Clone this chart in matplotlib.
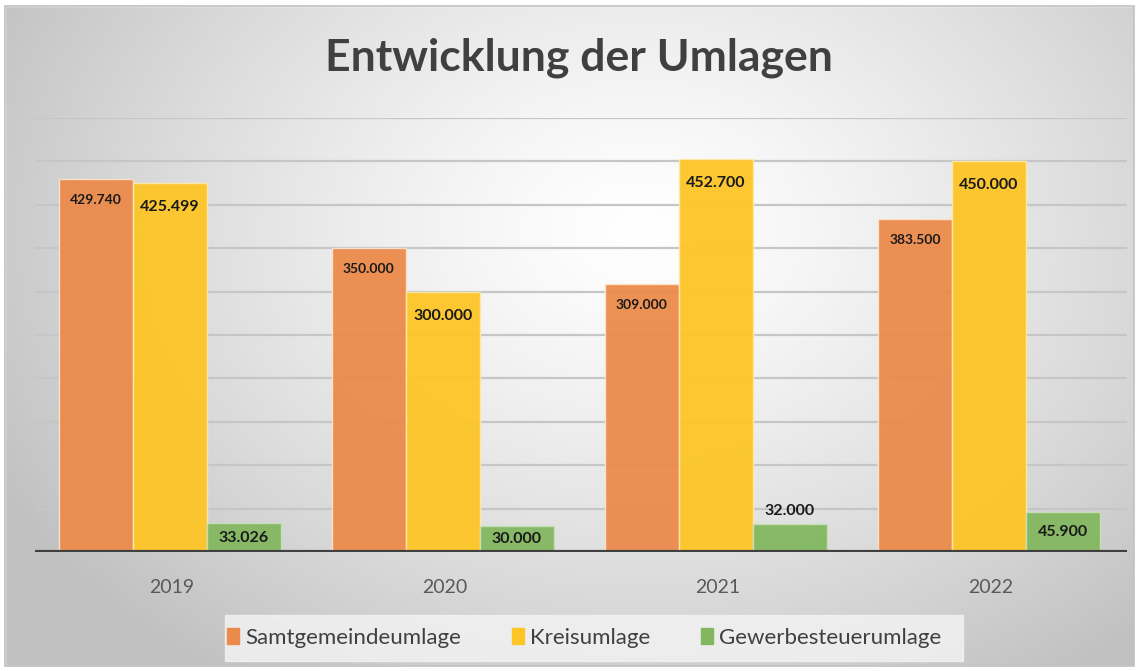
import numpy as np
import matplotlib
matplotlib.use("Agg")
import matplotlib.pyplot as plt
from matplotlib.patches import Rectangle, Patch

plt.rcParams['font.family'] = ['Lato', 'DejaVu Sans']

years = ["2019", "2020", "2021", "2022"]
series_names = ["Samtgemeindeumlage", "Kreisumlage", "Gewerbesteuerumlage"]
samtgemeinde = [429740, 350000, 309000, 383500]
kreis = [425499, 300000, 452700, 450000]
gewerbe = [33026, 30000, 32000, 45900]
colors = ["#EC8A4B", "#FDC526", "#82B760"]

W, H = 1139, 671
fig = plt.figure(figsize=(W / 100, H / 100), dpi=100)

# background radial gradient
bg = fig.add_axes([0, 0, 1, 1], zorder=-10)
yy, xx = np.mgrid[0:H, 0:W]
cx, cy = 640, 230
r = np.sqrt(((xx - cx) / 1.0) ** 2 + ((yy - cy) / 0.75) ** 2)
r = r / 720.0
val = 1.0 - 0.24 * np.clip(r, 0, 1) ** 1.3
img = np.dstack([val, val, val])
bg.imshow(img, extent=[0, W, H, 0], aspect='auto', interpolation='bilinear')
bg.set_xlim(0, W)
bg.set_ylim(H, 0)
bg.axis('off')
# outer white margin and border
bg.add_patch(Rectangle((0, 0), W, 6, color='white', zorder=2))
bg.add_patch(Rectangle((0, 0), 5, H, color='white', zorder=2))
bg.add_patch(Rectangle((0, 666), W, 6, color='white', zorder=2))
bg.add_patch(Rectangle((1134, 0), 6, H, color='white', zorder=2))
bg.add_patch(Rectangle((5, 6), 1129, 660, fill=False, edgecolor='#c0c0c0', lw=1.2, zorder=3))

# main axes
left, right = 35 / W, 1127 / W
bottom, top = (H - 552) / H, (H - 118) / H
ax = fig.add_axes([left, bottom, right - left, top - bottom])
ax.patch.set_alpha(0)
ax.set_ylim(0, 500000)
ax.set_xlim(-0.5, len(years) - 0.5)
for s in ax.spines.values():
    s.set_visible(False)
ax.set_yticks(np.arange(50000, 500001, 50000))
ax.yaxis.grid(True, color='#c6c6c6', lw=1.6, zorder=0)
ax.tick_params(axis='y', left=False, labelleft=False)
ax.set_axisbelow(True)

x = np.arange(len(years))
bw = 0.271
all_series = [samtgemeinde, kreis, gewerbe]
offsets = [-bw, 0, bw]

def fmt(v):
    return f"{v:,}".replace(",", ".")

for i, (vals, col) in enumerate(zip(all_series, colors)):
    ax.bar(x + offsets[i] - 0.006, vals, width=bw, color=col, alpha=0.95,
           edgecolor='#fbe3cf' if i == 0 else ('#fde9a8' if i == 1 else '#c8e0b8'),
           linewidth=1.0, zorder=2)
    for j, v in enumerate(vals):
        xc = x[j] + offsets[i] - 0.006
        if i == 0:
            ax.annotate(fmt(v), (xc, v), xytext=(0, -21), textcoords='offset pixels',
                        ha='center', va='center', fontsize=10, fontweight='bold',
                        color='#1a1a1a', zorder=5)
        elif i == 1:
            ax.annotate(fmt(v), (xc, v), xytext=(0, -24), textcoords='offset pixels',
                        ha='center', va='center', fontsize=11.5, fontweight='bold',
                        color='#1a1a1a', zorder=5)
        else:
            if years[j] == "2021":
                ax.annotate(fmt(v), (xc, v), xytext=(0, 13), textcoords='offset pixels',
                            ha='center', va='center', fontsize=11.5, fontweight='bold',
                            color='#1a1a1a', zorder=5)
            else:
                ax.text(xc, v / 2, fmt(v), ha='center', va='center', fontsize=11.5,
                        fontweight='bold', color='#1a1a1a', zorder=5)

ax.axhline(0, color='#404040', lw=3, zorder=4)
ax.set_xticks(x)
ax.set_xticklabels(years, fontsize=14, color='#595959')
ax.tick_params(axis='x', bottom=False, pad=16)

# title
fig.text(579 / W, 1 - 58 / H, "Entwicklung der Umlagen", ha='center', va='center',
         fontsize=32, fontweight='bold', color='#404040')

# legend band
bg.add_patch(Rectangle((225, 615), 738, 46, color='#f2f2f2', alpha=0.85, zorder=1))
handles = [Patch(facecolor=c, edgecolor=c) for c in colors]
leg = fig.legend(handles, series_names, loc='center', bbox_to_anchor=(584 / W, 1 - 638 / H),
                 ncol=3, frameon=False, fontsize=16, handlelength=0.55, handleheight=0.7,
                 handletextpad=0.25, columnspacing=2.3)
for t in leg.get_texts():
    t.set_color('#404040')

fig.savefig("out.png", dpi=100)
